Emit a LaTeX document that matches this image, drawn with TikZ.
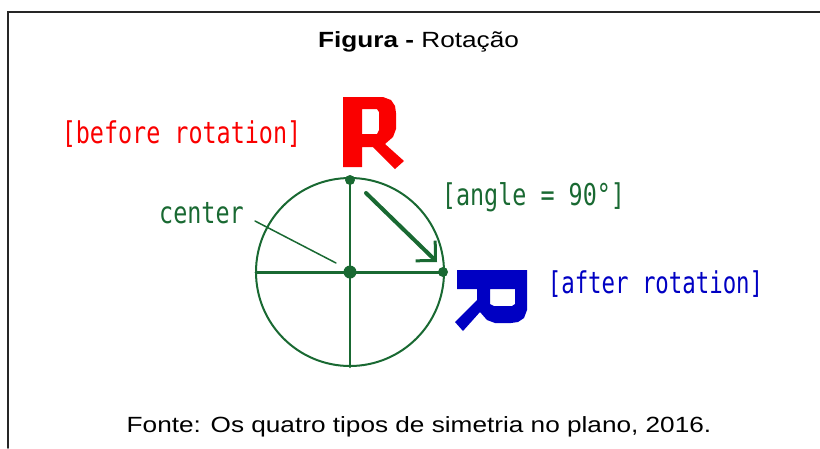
\documentclass[tikz,border=0pt]{standalone}
\usepackage{graphicx}
\usepackage{fontspec}
\setmainfont{Liberation Sans}
\newfontfamily\pixfont{DejaVu Sans Mono}
\usetikzlibrary{arrows.meta}
\definecolor{figgreen}{RGB}{25,105,50}
\definecolor{figred}{RGB}{250,0,0}
\definecolor{figblue}{RGB}{0,0,195}
\newcommand{\squeeze}[2][0.78]{\scalebox{#1}[1]{#2}}
\newcommand{\widen}[1]{\scalebox{1.19}[1]{#1}}
\begin{document}
\begin{tikzpicture}[x=1pt, y=-1pt, line cap=round,
    lbl/.style={font=\pixfont\fontsize{30}{30}\selectfont, inner sep=0pt, anchor=base},
    src/.style={font=\fontsize{22}{26}\selectfont, inner sep=0pt, anchor=base},
    letterR/.pic={
        \fill[even odd rule] (0,0) -- (40,0) -- (48,3) -- (52,9) -- (53,16) -- (53,32) -- (50,40) -- (42,47)
            -- (61,64) -- (52,72) -- (30,50) -- (19,50) -- (19,70) -- (0,70) -- cycle
            (19,12) -- (34,12) -- (36,15) -- (36,33) -- (34,37) -- (19,37) -- cycle;
    }]
    \useasboundingbox (0,0) rectangle (820,448);
    % 1. 外框 (右侧与底边被裁掉)
    \draw[line width=1.5pt, black!85] (8,448) -- (8,12) -- (820,12);

    % 2. 标题与来源
    \node[src] (title) at (418.5,47) {\widen{\textbf{Figura -} Rotação}};
    \node[src] (fonte) at (419,432) {\widen{Fonte: Os quatro tipos de simetria no plano, 2016.}};

    % 3. 圆与十字线
    \coordinate (O) at (350,272);
    \coordinate (top) at (350,180);
    \coordinate (bot) at (350,367);
    \coordinate (lft) at (256,272);
    \coordinate (rgt) at (443,272);
    \draw[figgreen, line width=2pt] (O) circle (94pt);
    \draw[figgreen, line width=3pt] (lft) -- (rgt);
    \draw[figgreen, line width=2.5pt] (top) -- (bot);
    \fill[figgreen] (O) circle (6.5pt);
    \fill[figgreen] (top) circle (5pt);
    \fill[figgreen] (rgt) circle (5pt);

    % 4. 旋转箭头 (90°)
    \coordinate (arrS) at (366,193);
    \coordinate (arrE) at (437,262);
    \draw[figgreen, line width=4pt, -{Straight Barb[length=14pt, width=28pt, line width=3pt]}] (arrS) -- (arrE);

    % 5. 旋转前后的字母 R
    \pic[color=figred] at (343,97) {letterR};
    \pic[color=figblue, rotate=-90] at (527,270) {letterR};

    % 6. 标签
    \node[lbl, figred] (before) at (181.5,143) {\squeeze{[before rotation]}};
    \node[lbl, figgreen] (ctrlbl) at (201.5,223) {\squeeze{center}};
    \node[lbl, figgreen] (angle) at (533.5,205) {\squeeze{[angle = 90°]}};
    \node[lbl, figblue] (after) at (655.5,293) {\squeeze[0.745]{[after rotation]}};
    \coordinate (lead) at (255,221);
    \coordinate (leadE) at (336,263);
    \draw[figgreen, line width=1.5pt] (lead) -- (leadE);
\end{tikzpicture}
\end{document}
